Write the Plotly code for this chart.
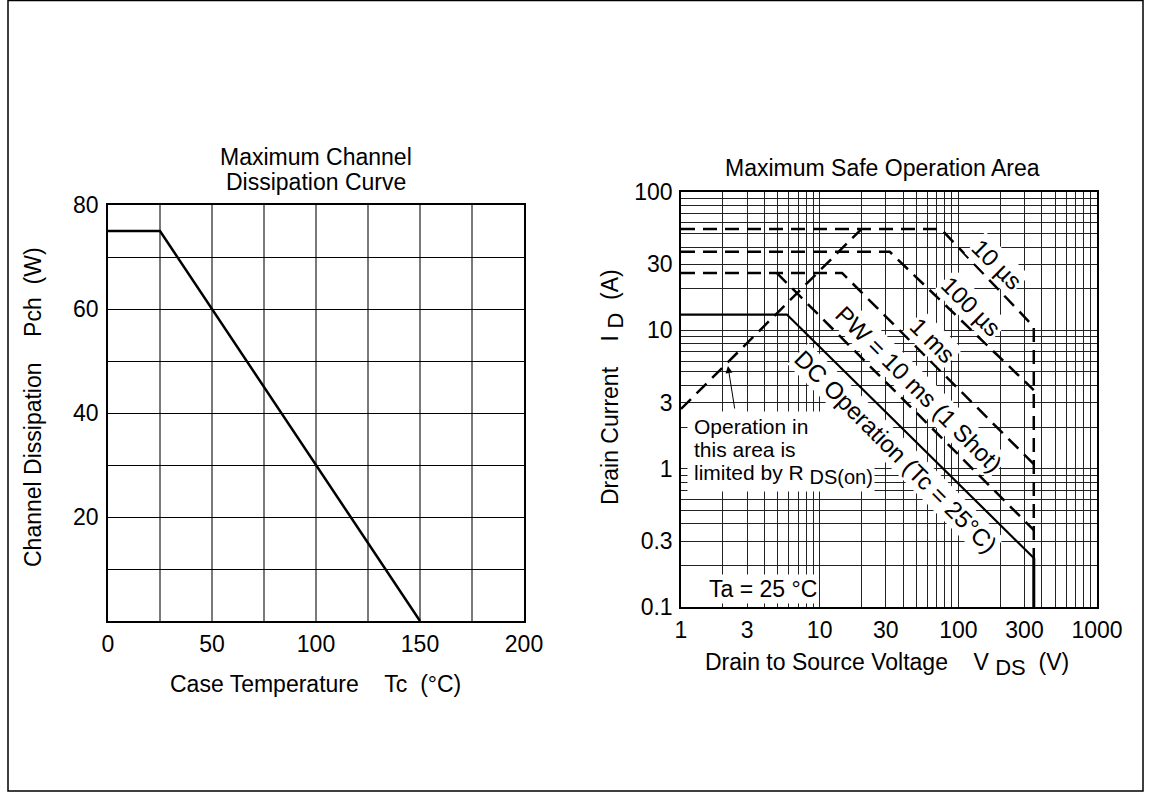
import math
import plotly.graph_objects as go

W, H = 1151, 794
FONT = "Liberation Sans, Arial, sans-serif"
FS = 23
NB = "\u00a0"

# ---------------- Left chart: Maximum Channel Dissipation Curve ----------------
tc_vals = [0, 25, 150]          # Case temperature (°C)
pch_vals = [75, 75, 0]          # Channel dissipation (W)
left_xticks = [0, 25, 50, 75, 100, 125, 150, 175, 200]
left_xlabels = ["0", "", "50", "", "100", "", "150", "", "200"]
left_yticks = [0, 10, 20, 30, 40, 50, 60, 70, 80]
left_ylabels = ["", "", "20", "", "40", "", "60", "", "80"]

# ---------------- Right chart: Maximum Safe Operation Area ----------------
rds_v = [1, 20]
rds_i = [2.7, 54]
us10_v = [1, 75, 350, 350]
us10_i = [54, 54, 10.6, 0.226]
us100_v = [1, 32, 350]
us100_i = [37, 37, 3.7]
ms1_v = [1, 14.5, 350]
ms1_i = [26, 26, 1.08]
ms10_v = [4.9, 350]
ms10_i = [26, 0.36]
dc_v = [1, 5.8, 350]
dc_i = [13, 13, 0.226]
dcend_v = [350, 350]
dcend_i = [0.226, 0.1]

right_xlabels = {1: "1", 3: "3", 10: "10", 30: "30", 100: "100", 300: "300", 1000: "1000"}
right_ylabels = {0.1: "0.1", 0.3: "0.3", 1: "1", 3: "3", 10: "10", 30: "30", 100: "100"}

# log grid positions (1..9 per decade)
def log_grid(lo_exp, hi_exp):
    vals = []
    for e in range(lo_exp, hi_exp):
        for m in range(1, 10):
            vals.append(round(m * 10 ** e, 6))
    vals.append(round(10 ** hi_exp, 6))
    return vals

rx_ticks = log_grid(0, 3)
ry_ticks = log_grid(-1, 2)
rx_text = [right_xlabels.get(v, "") for v in rx_ticks]
ry_text = [right_ylabels.get(v, "") for v in ry_ticks]

# ---------------- Layout geometry (pixels) ----------------
L_x = (108, 524); L_y = (205, 621)
R_x = (681, 1097); R_y = (192, 607)

def fx(x):
    return x / W

def fy(y):
    return 1 - y / H

def dom_x(a):
    return [fx(a[0]), fx(a[1])]

def dom_y(a):
    return [fy(a[1]), fy(a[0])]

fig = go.Figure()

dash_style = "14px,8px"
fig.add_trace(go.Scatter(x=tc_vals, y=pch_vals, mode="lines",
                         line=dict(color="black", width=2.5), xaxis="x", yaxis="y",
                         showlegend=False, hoverinfo="skip"))

for xs, ys in [(rds_v, rds_i), (us10_v, us10_i), (us100_v, us100_i),
               (ms1_v, ms1_i), (ms10_v, ms10_i)]:
    fig.add_trace(go.Scatter(x=xs, y=ys, mode="lines",
                             line=dict(color="black", width=2.5, dash=dash_style),
                             xaxis="x2", yaxis="y2", showlegend=False, hoverinfo="skip"))
fig.add_trace(go.Scatter(x=dc_v, y=dc_i, mode="lines", line=dict(color="black", width=2.2),
                         xaxis="x2", yaxis="y2", showlegend=False, hoverinfo="skip"))
fig.add_trace(go.Scatter(x=dcend_v, y=dcend_i, mode="lines", line=dict(color="black", width=3),
                         xaxis="x2", yaxis="y2", showlegend=False, hoverinfo="skip"))

tickfont = dict(family=FONT, size=FS, color="black")

fig.update_layout(
    width=W, height=H,
    margin=dict(l=0, r=0, t=0, b=0),
    paper_bgcolor="white", plot_bgcolor="white",
    font=dict(family=FONT, size=FS, color="black"),
    xaxis=dict(domain=dom_x(L_x), range=[0, 200], tickvals=left_xticks, ticktext=left_xlabels,
               showgrid=True, gridcolor="#7a7a7a", gridwidth=1.5, zeroline=False,
               showline=True, mirror=True, linecolor="black", linewidth=1.5,
               ticks="", ticklabelstandoff=2, tickfont=tickfont, anchor="y", automargin=False),
    yaxis=dict(domain=dom_y(L_y), range=[0, 80], tickvals=left_yticks, ticktext=left_ylabels,
               showgrid=True, gridcolor="black", gridwidth=1, zeroline=False,
               showline=True, mirror=True, linecolor="black", linewidth=1.5,
               ticks="", ticklabelstandoff=3, tickfont=tickfont, anchor="x", automargin=False),
    xaxis2=dict(domain=dom_x(R_x), type="log", range=[0, 3], tickvals=rx_ticks, ticktext=rx_text,
                showgrid=True, gridcolor="#222", gridwidth=1, zeroline=False,
                showline=True, mirror=True, linecolor="black", linewidth=1.5,
                ticks="", ticklabelstandoff=2, tickfont=tickfont, anchor="y2", automargin=False),
    yaxis2=dict(domain=dom_y(R_y), type="log", range=[-1, 2], tickvals=ry_ticks, ticktext=ry_text,
                showgrid=True, gridcolor="#222", gridwidth=1, zeroline=False,
                showline=True, mirror=True, linecolor="black", linewidth=1.5,
                ticks="", ticklabelstandoff=2, tickfont=tickfont, anchor="x2", automargin=False),
)

anns = []

def ann_px(text, x, y, size=FS, angle=0, xanchor="center", yanchor="middle", align="center"):
    anns.append(dict(text=text, x=fx(x), y=fy(y), xref="paper", yref="paper",
                     showarrow=False, font=dict(family=FONT, size=size, color="black"),
                     textangle=angle, xanchor=xanchor, yanchor=yanchor, align=align))

# Titles
ann_px("Maximum Channel", 316, 157)
ann_px("Dissipation Curve", 316, 182)
ann_px("Maximum Safe Operation Area", 882, 168)

# Axis titles
ann_px("Channel Dissipation" + NB * 4 + "Pch" + NB * 2 + "(W)", 33, 407, angle=-90)
ann_px("Case Temperature" + NB * 4 + "Tc" + NB * 2 + "(°C)", 315, 684)
ann_px("Drain Current" + NB * 4 + "I" + NB + "<sub><span style='font-size:22px'>D</span></sub>" + NB * 2 + "(A)",
       612, 387, angle=-90)
ann_px("Drain to Source Voltage" + NB * 4 + "V" + NB + "<sub><span style='font-size:22px'>DS</span></sub>" + NB * 2 + "(V)",
       887, 664)

# Labels inside the SOA chart (data coords, log10 for log axes)
def ann_data(text, v, i, angle=45, size=FS, pad=1):
    anns.append(dict(text=text, x=math.log10(v), y=math.log10(i), xref="x2", yref="y2",
                     showarrow=False, font=dict(family=FONT, size=size, color="black"),
                     textangle=angle, xanchor="center", yanchor="middle",
                     bgcolor="white", borderpad=pad))

# white backdrop (no text) for the R_DS(on) note, then its three lines of text
anns.append(dict(text=NB, x=fx(687), y=fy(411), xref="paper", yref="paper", showarrow=False,
                 width=186, height=79, xanchor="left", yanchor="top", bgcolor="white",
                 borderpad=0, font=dict(family=FONT, size=4, color="white")))

def ann_line(text, x, y, size=21):
    anns.append(dict(text=text, x=fx(x), y=fy(y), xref="paper", yref="paper",
                     showarrow=False, font=dict(family=FONT, size=size, color="black"),
                     xanchor="left", yanchor="middle", align="left"))

ann_line("Operation in", 692, 426)
ann_line("this area is", 692, 449)
ann_line("limited by R" + NB + "<sub><span style='font-size:20px'>DS(on)</span></sub>", 692, 474)

ann_data("Ta = 25 °C", 3.93, 0.1346, angle=0)
ann_data("10 µs", 190, 29.7, size=24)
ann_data("100 µs", 124, 14.9, size=24)
ann_data("1 ms", 65.6, 8.5, size=24)
ann_data("PW = 10 ms (1 Shot)", 51.2, 3.77, size=24)
ann_data("DC Operation (Tc = 25°C)", 35.5, 1.34, size=24)

# Arrow pointing to the R_DS(on) limit line
anns.append(dict(text="", x=math.log10(2.18), y=math.log10(5.52), xref="x2", yref="y2",
                 showarrow=True, ax=7, ay=44, axref="pixel", ayref="pixel",
                 arrowhead=2, arrowsize=1.4, arrowwidth=1, arrowcolor="black"))

fig.update_layout(annotations=anns)

# Outer frame
fig.add_shape(type="rect", xref="paper", yref="paper",
              x0=fx(8), x1=fx(1143), y0=fy(791), y1=fy(0.5),
              line=dict(color="black", width=1.5))

fig.write_html("out.html", config={"displayModeBar": False},
               post_script="document.body.style.margin='0';")
